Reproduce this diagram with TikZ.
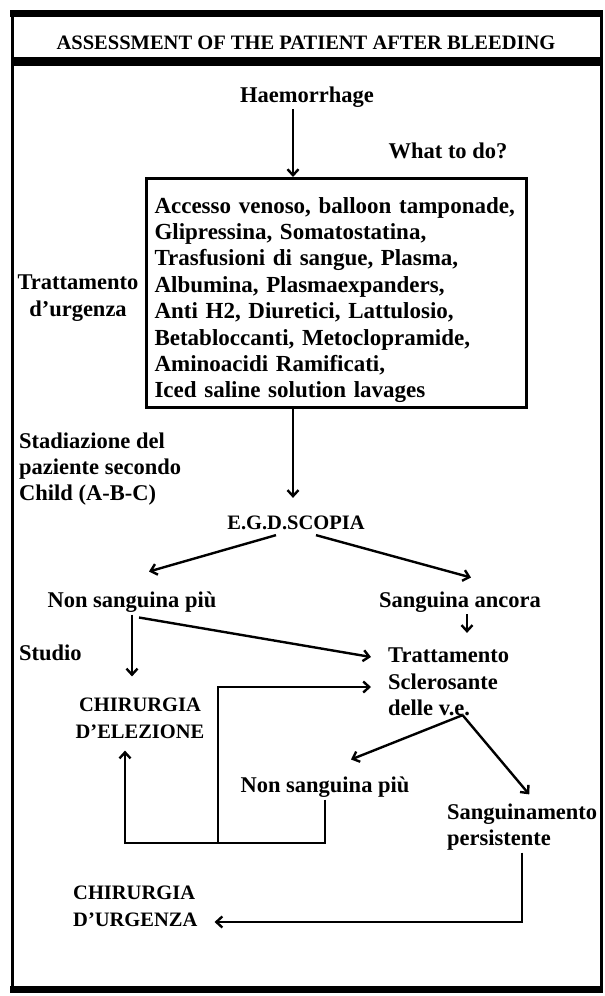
\documentclass[tikz,border=0pt]{standalone}
\usepackage{fontspec}
\setmainfont{Liberation Serif}
\usetikzlibrary{arrows.meta}

\begin{document}
\begin{tikzpicture}[x=1pt,y=-1pt,lbl/.style={font=\fontsize{22.5}{26.4}\selectfont\bfseries,inner sep=2pt},capslbl/.style={font=\fontsize{20.5}{27}\selectfont\bfseries,inner sep=2pt},actions/.style={draw,line width=3pt,font=\fontsize{23}{26.4}\selectfont\bfseries,align=left,inner xsep=8pt},flow/.style={line width=2.4pt,-{Straight Barb[length=6pt,width=11pt]}}]
\useasboundingbox (0,0) rectangle (605,996);
% frame and title band
\draw[line width=3pt] (12,13) rectangle (601,989);
\draw[line width=7pt] (10,13.5) -- (603,13.5);
\draw[line width=9pt] (12,61.5) -- (601,61.5);
\draw[line width=7pt] (10,989) -- (603,989);
\node[capslbl] (title) at (306,43) {ASSESSMENT OF THE PATIENT AFTER BLEEDING};
% nodes
\node[lbl] (haem) at (307,97) {Haemorrhage};
\node[lbl] (what) at (448,151) {What to do?};
\node[actions,anchor=north west,minimum width=380pt,minimum height=229pt,text width=364pt] (act) at (145,177) {\rule{0pt}{30pt}Accesso venoso, balloon tamponade,\\Glipressina, Somatostatina,\\Trasfusioni di sangue, Plasma,\\Albumina, Plasmaexpanders,\\Anti H2, Diuretici, Lattulosio,\\Betabloccanti, Metoclopramide,\\Aminoacidi Ramificati,\\Iced saline solution lavages};
\node[lbl,align=center] (tratt) at (78,298) {Trattamento\\d'urgenza};
\node[lbl,align=left,anchor=west] (stad) at (17,469) {Stadiazione del\\paziente secondo\\Child (A-B-C)};
\node[capslbl] (egd) at (296,523) {E.G.D.SCOPIA};
\node[lbl] (nsp1) at (132,602) {Non sanguina più};
\node[lbl] (sa) at (460,602) {Sanguina ancora};
\node[lbl,anchor=west] (studio) at (17,653) {Studio};
\node[lbl,align=left,anchor=west] (trat2) at (386,682) {Trattamento\\Sclerosante\\delle v.e.};
\node[capslbl,align=center] (elez) at (140,718) {CHIRURGIA\\D'ELEZIONE};
\node[lbl] (nsp2) at (325,787) {Non sanguina più};
\node[lbl,align=left,anchor=west] (sp) at (445,827) {Sanguinamento\\persistente};
\node[capslbl,align=left,anchor=west] (urg) at (71,906) {CHIRURGIA\\D'URGENZA};
\coordinate (ax) at (293,0);
\coordinate (loop) at (218,843);
% connectors
\draw[flow] (haem.south -| ax) -- (act.north -| ax);
\draw[flow,shorten >=16pt] (act.south -| ax) -- (egd.north -| ax);
\draw[flow] ([xshift=-20pt,yshift=-3pt]egd.south) -- ([xshift=17pt,yshift=18pt]nsp1.north);
\draw[flow] ([xshift=20pt,yshift=-3pt]egd.south) -- ([xshift=11pt,yshift=12pt]sa.north);
\draw[flow,shorten >=13pt] ([xshift=7pt]sa.south) -- ([xshift=7pt]sa.south |- trat2.north);
\draw[flow,shorten >=19pt] (nsp1.south) -- (nsp1.south |- elez.north);
\draw[flow] ([xshift=7pt,yshift=-3pt]nsp1.south) -- ([xshift=-15pt,yshift=25pt]trat2.west);
\draw[flow] (nsp2.south) |- (loop) -| ([xshift=-15pt,yshift=-10pt]elez.south);
\draw[flow] (loop) |- ([xshift=-15pt,yshift=-5pt]trat2.west);
\draw[flow] ([xshift=14pt,yshift=3pt]trat2.south) -- ([xshift=26pt,yshift=15pt]nsp2.north);
\draw[flow] ([xshift=14pt,yshift=3pt]trat2.south) -- ([xshift=7pt,yshift=7pt]sp.north);
\draw[flow] (sp.south) |- ([xshift=15pt,yshift=-16pt]urg.east);
\end{tikzpicture}
\end{document}
